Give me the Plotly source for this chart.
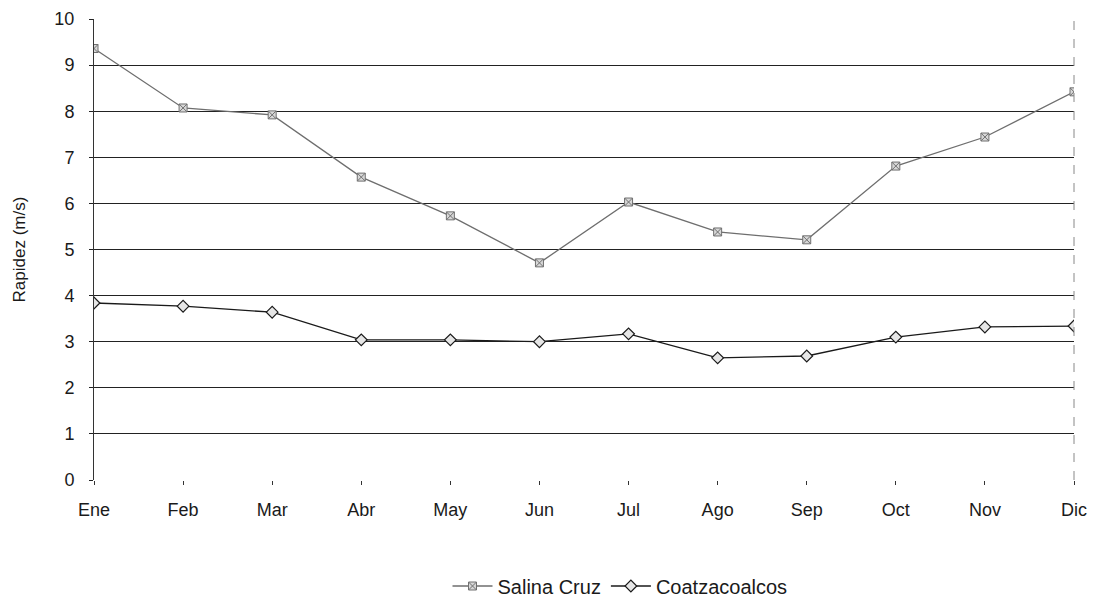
import plotly.graph_objects as go

meses = ["Ene", "Feb", "Mar", "Abr", "May", "Jun", "Jul", "Ago", "Sep", "Oct", "Nov", "Dic"]
salina_cruz = [9.36, 8.07, 7.92, 6.57, 5.73, 4.71, 6.03, 5.38, 5.21, 6.81, 7.44, 8.42]
coatzacoalcos = [3.84, 3.77, 3.64, 3.04, 3.04, 3.00, 3.17, 2.65, 2.69, 3.10, 3.32, 3.34]
y_ticks = list(range(0, 11))

FONT = "Liberation Sans, Arial, sans-serif"

fig = go.Figure()
fig.add_trace(go.Scatter(
    x=meses, y=salina_cruz, name="Salina Cruz", mode="lines+markers",
    line=dict(color="#6e6e6e", width=1.3),
    marker=dict(symbol="square-x", size=8, color="#d8d8d8",
                line=dict(color="#707070", width=1)),
))
fig.add_trace(go.Scatter(
    x=meses, y=coatzacoalcos, name="Coatzacoalcos", mode="lines+markers",
    line=dict(color="#1a1a1a", width=1.3),
    marker=dict(symbol="diamond", size=9, color="#e6e6e6",
                line=dict(color="#1a1a1a", width=1.2)),
))

fig.update_layout(
    width=1094, height=606,
    margin=dict(l=94, r=20, t=19, b=126, autoexpand=False),
    paper_bgcolor="white", plot_bgcolor="white",
    font=dict(family=FONT, size=18, color="#1a1a1a"),
    showlegend=True,
    legend=dict(orientation="h", x=620 / 1094, xanchor="center", xref="container",
                y=1 - 586 / 606, yanchor="middle", yref="container",
                font=dict(size=20), itemwidth=40, tracegroupgap=0),
    xaxis=dict(
        type="category", range=[0, 11], showgrid=False,
        showline=False, ticks="outside", ticklen=4, tickcolor="#333",
        ticklabelstandoff=9, zeroline=False,
    ),
    yaxis=dict(
        title=dict(text="Rapidez (m/s)", font=dict(size=17), standoff=24),
        range=[0, 10], tickvals=y_ticks, ticks="outside", ticklen=4, tickcolor="#222",
        ticklabelstandoff=11,
        showgrid=True, gridcolor="#222", gridwidth=1,
        showline=True, linecolor="#333", linewidth=1, mirror=False,
        zeroline=False,
    ),
)
# right frame edge
fig.add_shape(type="line", xref="paper", yref="paper", x0=1, x1=1, y0=0, y1=1,
              line=dict(color="#888", width=1, dash="dash"))

fig.write_html("out.html")
